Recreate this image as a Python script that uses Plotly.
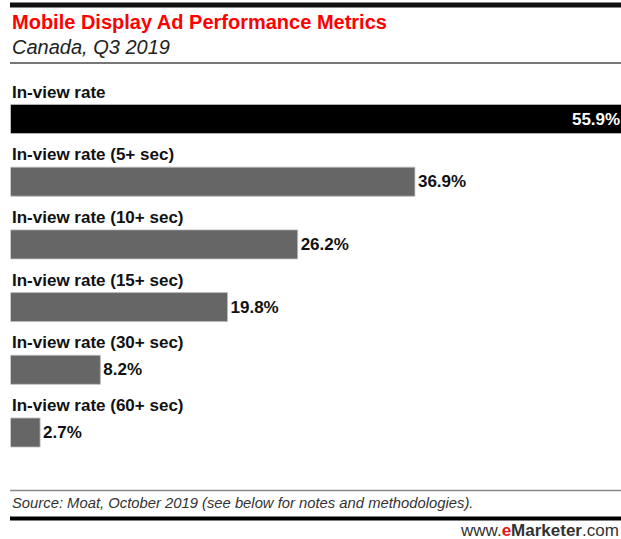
import plotly.graph_objects as go

categories = ["In-view rate", "In-view rate (5+ sec)", "In-view rate (10+ sec)",
              "In-view rate (15+ sec)", "In-view rate (30+ sec)", "In-view rate (60+ sec)"]
values = [55.9, 36.9, 26.2, 19.8, 8.2, 2.7]
value_labels = ["55.9%", "36.9%", "26.2%", "19.8%", "8.2%", "2.7%"]

W, H = 621, 539
bar_colors = ["#000000"] + ["#666666"] * 5
text_colors = ["#ffffff"] + ["#111111"] * 5
text_pos = ["inside"] + ["outside"] * 5

fig = go.Figure(go.Bar(
    x=values, y=categories, orientation="h",
    marker=dict(color=bar_colors, line=dict(color="#bbbbbb", width=0.8)),
    width=0.4625,
    text=value_labels, textposition=text_pos, insidetextanchor="end",
    textfont=dict(family="Liberation Sans", size=17, color=text_colors, weight="bold"),
    outsidetextfont=dict(family="Liberation Sans", size=17, color="#111111", weight="bold"),
    insidetextfont=dict(family="Liberation Sans", size=17, color="#ffffff", weight="bold"),
    cliponaxis=True, hoverinfo="skip",
))

annotations = []
for c in categories:
    annotations.append(dict(
        x=10 / W, xref="paper", xanchor="left", y=c, yref="y", yanchor="middle",
        yshift=27, text=f"<b>{c}</b>", showarrow=False,
        font=dict(family="Liberation Sans", size=17, color="#111111"),
    ))

annotations += [
    dict(x=10 / W, y=1 - 22 / H, xref="paper", yref="paper", xanchor="left", yanchor="middle",
         text="<b>Mobile Display Ad Performance Metrics</b>", showarrow=False,
         font=dict(family="Liberation Sans", size=20, color="#ff0000")),
    dict(x=10 / W, y=1 - 47 / H, xref="paper", yref="paper", xanchor="left", yanchor="middle",
         text="<i>Canada, Q3 2019</i>", showarrow=False,
         font=dict(family="Liberation Sans", size=20, color="#222222")),
    dict(x=10 / W, y=1 - 503 / H, xref="paper", yref="paper", xanchor="left", yanchor="middle",
         text="<i>Source: Moat, October 2019 (see below for notes and methodologies).</i>", showarrow=False,
         font=dict(family="Liberation Sans", size=14.8, color="#333333")),
    dict(x=1, y=1 - 530 / H, xref="paper", yref="paper", xanchor="right", yanchor="middle",
         text="www.<span style='color:#e5141b'><b>e</b></span><b>Marketer</b>.com", showarrow=False,
         font=dict(family="Liberation Sans", size=17, color="#333333")),
]

shapes = [
    dict(type="line", xref="paper", yref="paper", x0=10 / W, x1=1, y0=1 - 5 / H, y1=1 - 5 / H,
         line=dict(color="#111111", width=5)),
    dict(type="line", xref="paper", yref="paper", x0=10 / W, x1=1, y0=1 - 63 / H, y1=1 - 63 / H,
         line=dict(color="#777777", width=2)),
    dict(type="line", xref="paper", yref="paper", x0=10 / W, x1=1, y0=1 - 490.5 / H, y1=1 - 490.5 / H,
         line=dict(color="#888888", width=1.5)),
    dict(type="line", xref="paper", yref="paper", x0=10 / W, x1=1, y0=1 - 518.5 / H, y1=1 - 518.5 / H,
         line=dict(color="#000000", width=4)),
]

spacing = 62.7
c0 = 119
fig.update_layout(
    width=W, height=H, autosize=False,
    margin=dict(l=0, r=0, t=0, b=0),
    paper_bgcolor="white", plot_bgcolor="white",
    showlegend=False,
    xaxis=dict(domain=[10.5 / W, 1], range=[0, 610.5 / 10.96], visible=False, fixedrange=True),
    yaxis=dict(type="category", categoryorder="array", categoryarray=categories,
               range=[(H - c0) / spacing, -c0 / spacing], visible=False, fixedrange=True),
    annotations=annotations, shapes=shapes,
)

fig.write_html("out.html")
